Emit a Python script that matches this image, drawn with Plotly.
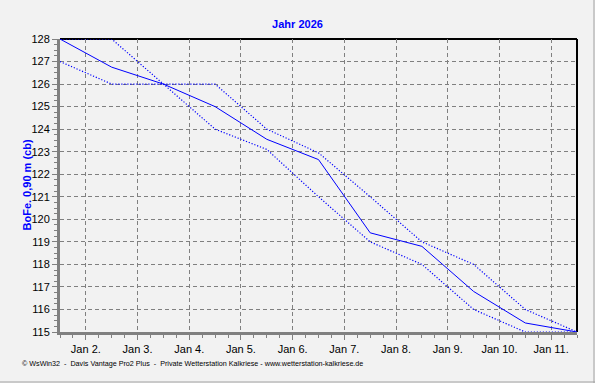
import plotly.graph_objects as go

# ---- data ----
dates = ["2026-01-%02d 12:00" % d for d in range(1, 12)]
mean_vals = [128.0, 126.75, 126.0, 125.0, 123.55, 122.65, 119.4, 118.8, 116.8, 115.4, 115.0]
line_a = [128.0, 128.0, 126.0, 124.0, 123.1, 121.0, 119.0, 118.0, 116.0, 115.0, 115.0]
line_b = [127.0, 126.0, 126.0, 126.0, 124.0, 122.95, 121.0, 119.0, 118.0, 116.0, 115.0]

tick_dates = ["2026-01-%02d" % d for d in range(2, 12)]
tick_labels = ["Jan %d." % d for d in range(2, 12)]
y_ticks = list(range(115, 129))

title_text = "Jahr 2026"
y_title = "BoFe. 0,90 m (cb)"
footer = ("© WsWin32  -  Davis Vantage Pro2 Plus  -  Private Wetterstation Kalkriese - "
          "www.wetterstation-kalkriese.de")

BLUE = "#0000FF"
GRID = "#808080"
BG = "#F2F2F2"
FONT = "Liberation Sans, Arial, sans-serif"

fig = go.Figure()
fig.add_trace(go.Scatter(x=dates, y=line_a, mode="lines",
                         line=dict(color=BLUE, width=1.2, dash="1.2px,1.8px"), showlegend=False))
fig.add_trace(go.Scatter(x=dates, y=line_b, mode="lines",
                         line=dict(color=BLUE, width=1.2, dash="1.2px,1.8px"), showlegend=False))
fig.add_trace(go.Scatter(x=dates, y=mean_vals, mode="lines",
                         line=dict(color=BLUE, width=1), showlegend=False))

W, H = 595, 383
L, R, T, B = 60, 18, 39, 51
pw, ph = W - L - R, H - T - B

fig.update_layout(
    width=W, height=H,
    margin=dict(l=L, r=R, t=T, b=B),
    paper_bgcolor=BG, plot_bgcolor=BG,
    font=dict(family=FONT, size=11, color="black"),
    title=dict(text="<b>%s</b>" % title_text, x=0.5, xref="container", xanchor="center",
               y=1 - 24 / H, yref="container", yanchor="middle",
               font=dict(family=FONT, size=11, color=BLUE)),
    xaxis=dict(
        type="date",
        range=[dates[0], dates[-1]],
        tickmode="array", tickvals=tick_dates, ticktext=tick_labels,
        ticks="outside", ticklen=5, tickcolor=GRID, tickwidth=1,
        showline=True, linecolor=GRID, linewidth=3,
        showgrid=True, gridcolor=GRID, gridwidth=1, griddash="4px,3px",
        zeroline=False,
        tickfont=dict(family=FONT, size=11, color="black"),
        minor=dict(dtick=6 * 3600 * 1000, tick0="2026-01-01", ticks="outside",
                   ticklen=3, tickcolor=GRID, showgrid=False),
    ),
    yaxis=dict(
        range=[115, 128],
        tickmode="array", tickvals=y_ticks,
        ticks="outside", ticklen=5, tickcolor=GRID, tickwidth=1,
        showline=True, linecolor=GRID, linewidth=3,
        showgrid=True, gridcolor=GRID, gridwidth=1, griddash="4px,3px",
        zeroline=False,
        tickfont=dict(family=FONT, size=11, color="black"),
        minor=dict(dtick=0.25, ticks="outside", ticklen=3, tickcolor=GRID, showgrid=False),
    ),
    shapes=[
        # top and right plot border (black), beneath the data lines
        dict(type="line", xref="paper", yref="paper", x0=0, x1=1, y0=1, y1=1,
             layer="below", line=dict(color="black", width=2)),
        dict(type="line", xref="paper", yref="paper", x0=1, x1=1, y0=0, y1=1,
             layer="below", line=dict(color="black", width=2)),
        # outer frame right / bottom
        dict(type="line", xref="paper", yref="paper",
             x0=(594 - L) / pw, x1=(594 - L) / pw, y0=-B / ph, y1=(H - B) / ph,
             line=dict(color="#A0A0A0", width=1)),
        dict(type="line", xref="paper", yref="paper",
             x0=-L / pw, x1=(W - L) / pw, y0=-(382 - (H - B)) / ph, y1=-(382 - (H - B)) / ph,
             line=dict(color="#A0A0A0", width=1)),
    ],
    annotations=[
        dict(text="<b>%s</b>" % y_title, xref="paper", yref="paper",
             x=(26 - L) / pw, y=0.5, xanchor="center", yanchor="middle",
             textangle=-90, showarrow=False,
             font=dict(family=FONT, size=11, color=BLUE)),
        dict(text=footer, xref="paper", yref="paper",
             x=(20 - L) / pw, y=-(363 - (H - B)) / ph, xanchor="left", yanchor="middle",
             showarrow=False, font=dict(family=FONT, size=7.2, color="black")),
    ],
)

fig.write_html("out.html", config={"displayModeBar": False},
               post_script="document.body.style.margin='0px';")
